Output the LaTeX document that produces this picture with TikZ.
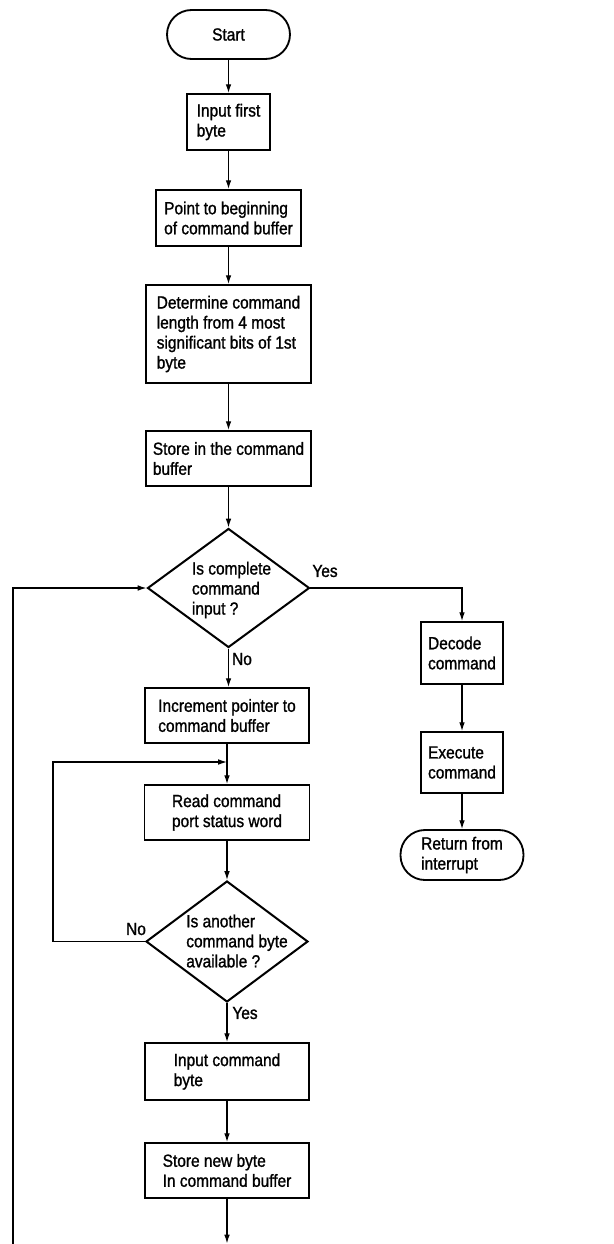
\documentclass[tikz,border=0pt]{standalone}
\usepackage{fontspec}
\setmainfont{Liberation Sans}[FakeStretch=0.88,FakeBold=1.2]
\usetikzlibrary{shapes.geometric,arrows.meta}
\tikzset{
  txt/.style={font=\fontsize{10}{11.4}\selectfont, align=left},
  box/.style={txt, draw, line width=1.05pt, inner sep=0pt},
  term/.style={box, rounded corners=0.49cm},
  decision/.style={diamond, draw, line width=1.15pt, inner sep=0pt},
  conn/.style={line width=0.7pt},
  arr/.style={conn, -{Latex[length=5pt,width=3.2pt]}},
  lbl/.style={txt, inner sep=0pt}
}
\begin{document}
\begin{tikzpicture}[x=0.02cm,y=-0.02cm]
\useasboundingbox (0,0) rectangle (614,1244);
% main column
\node[term, minimum width=2.46cm, minimum height=0.98cm] (start) at (228.5,34.5) {Start};
\node[box, minimum width=1.66cm, minimum height=1.12cm] (in1) at (228.5,122) {Input first\\byte};
\node[box, minimum width=2.9cm, minimum height=1.12cm] (pt) at (228.5,218) {Point to beginning\\of command buffer};
\node[box, minimum width=3.3cm, minimum height=1.96cm] (det) at (228.5,334) {Determine command\\length from 4 most\\significant bits of 1st\\byte};
\node[box, minimum width=3.3cm, minimum height=1.1cm] (st) at (228.5,458.5) {Store in the command\\buffer};
\node[decision, minimum width=3.24cm, minimum height=2.38cm] (d1) at (228.5,588) {};
\node[lbl] (d1t) at (231.5,590) {Is complete\\command\\input ?};
% right column
\node[box, minimum width=1.64cm, minimum height=1.24cm] (dec) at (462,653) {Decode\\command};
\node[box, minimum width=1.64cm, minimum height=1.22cm] (exe) at (462,762.5) {Execute\\command};
\node[term, minimum width=2.46cm, minimum height=1.0cm] (ret) at (462,855) {Return from\\interrupt};
% lower column
\node[box, minimum width=3.28cm, minimum height=1.1cm] (inc) at (227,715.5) {Increment pointer to\\command buffer};
\node[box, minimum width=3.3cm, minimum height=1.1cm] (rd) at (227,812.5) {Read command\\port status word};
\node[decision, minimum width=3.24cm, minimum height=2.42cm] (d2) at (227,941.5) {};
\node[lbl] (d2t) at (237,941) {Is another\\command byte\\available ?};
\node[box, minimum width=3.28cm, minimum height=1.14cm] (inp) at (227,1071.5) {Input command\\byte};
\node[box, minimum width=3.28cm, minimum height=1.1cm] (snb) at (227,1170.5) {Store new byte\\In command buffer};
% coordinates
\coordinate (j1) at (227,762);
\coordinate (lb) at (53,762);
\coordinate (bot) at (227,1243.5);
\coordinate (bl) at (13,1244);
% labels
\node[lbl] (yes1) at (325,571) {Yes};
\node[lbl] (no1) at (242,659) {No};
\node[lbl] (no2) at (136,929) {No};
\node[lbl] (yes2) at (245,1013) {Yes};
% connectors
\draw[arr] (start) -- (in1);
\draw[arr] (in1) -- (pt);
\draw[arr] (pt) -- (det);
\draw[arr] (det) -- (st);
\draw[arr] (st) -- (d1);
\draw[arr] (d1.east) -| (dec.north);
\draw[arr] (dec) -- (exe);
\draw[arr] (exe) -- (ret);
\draw[arr] (d1.south) -- (d1.south |- inc.north);
\draw[arr] (inc) -- (rd);
\draw[arr] (d2.west) -| (lb) -- (j1);
\draw[arr] (rd) -- (d2);
\draw[arr] (d2) -- (inp);
\draw[arr] (inp) -- (snb);
\draw[arr] (snb) -- (bot);
\draw[arr] (bl) |- (d1.west);
\end{tikzpicture}
\end{document}
